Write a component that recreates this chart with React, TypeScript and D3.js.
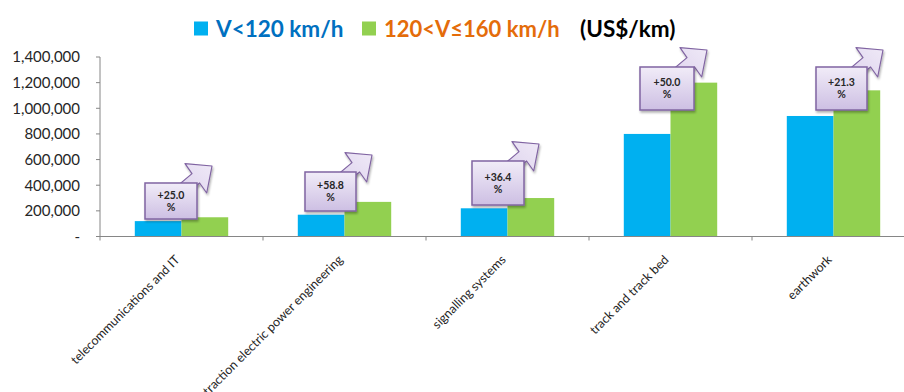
import React from "react";
import * as d3 from "d3";

// Cost per km by railway component, two design-speed classes
const categories = [
  "telecommunications and IT",
  "traction electric power engineering",
  "signalling systems",
  "track and track bed",
  "earthwork",
];
const seriesNames = ["V<120 km/h", "120<V≤160 km/h"];
const lowSpeed = [120000, 170000, 220000, 800000, 940000];
const midSpeed = [150000, 270000, 300000, 1200000, 1140000];
const yTicks = [0, 200000, 400000, 600000, 800000, 1000000, 1200000, 1400000];
const unitLabel = "(US$/km)";

// Callout boxes: offset from the category centre, top edge and size (px)
const calloutLayout = [
  { dx: -36.5, top: 183, w: 52, h: 36 },
  { dx: -39.5, top: 172, w: 51, h: 39 },
  { dx: -35.5, top: 161, w: 52, h: 44 },
  { dx: -30.5, top: 67, w: 54, h: 43 },
  { dx: -17.5, top: 67, w: 51, h: 43 },
];

const W = 904;
const H = 392;
const left = 100;
const catStep = 163;
const top = 57;
const bottom = 236.5;

const FONT = "Lato, 'Open Sans', sans-serif";
const BLUE = "#00b0f0";
const GREEN = "#92d050";
const AXIS = "#868686";

export default function App() {
  const x0 = d3
    .scaleBand<string>()
    .domain(categories)
    .range([left, left + catStep * categories.length])
    .padding(0);
  const x1 = d3
    .scaleBand<string>()
    .domain(seriesNames)
    .range([0, x0.bandwidth()])
    .paddingInner(0)
    .paddingOuter(0.745);
  const y = d3.scaleLinear().domain([0, 1400000]).range([bottom, top]);
  const fmt = d3.format(",");
  const series = [lowSpeed, midSpeed];
  const colors = [BLUE, GREEN];

  // Block arrow shape relative to callout box top-left
  const arrowPath =
    "M24,10 L47,-9.4 L40,-19.4 L67,-17 L61.7,10 L54.6,0 L31,19 Z";

  return (
    <svg
      width={W}
      height={H}
      style={{ position: "absolute", left: 0, top: 0, background: "#fff" }}
      fontFamily={FONT}
    >
      <defs>
        <linearGradient id="boxFill" x1="0" y1="0" x2="0" y2="1">
          <stop offset="0%" stopColor="#f1ecf8" />
          <stop offset="100%" stopColor="#cdbfe3" />
        </linearGradient>
        <linearGradient id="arrowFill" x1="0" y1="1" x2="1" y2="0">
          <stop offset="0%" stopColor="#d9cdea" />
          <stop offset="100%" stopColor="#efe9f7" />
        </linearGradient>
        <filter id="shadow" x="-20%" y="-20%" width="150%" height="150%">
          <feDropShadow dx="1" dy="2" stdDeviation="1.2" floodColor="#000" floodOpacity="0.3" />
        </filter>
      </defs>

      {/* legend */}
      <g>
        <rect x={194} y={21.5} width={14} height={14} fill={BLUE} />
        <text x={216} y={36.5} fontSize={22.5} fontWeight={700} fill="#0070c0">
          {seriesNames[0]}
        </text>
        <rect x={362} y={21.5} width={14} height={14} fill={GREEN} />
        <text x={384} y={36.5} fontSize={22} fontWeight={700} fill="#e46c0a">
          {seriesNames[1]}
        </text>
        <text x={580} y={36.5} fontSize={22.5} fontWeight={700} fill="#000">
          {unitLabel}
        </text>
      </g>

      {/* y axis */}
      <line x1={left} x2={left} y1={top} y2={bottom} stroke={AXIS} strokeWidth={1} />
      {yTicks.map((t) => (
        <g key={t}>
          <line x1={left - 4} x2={left} y1={y(t)} y2={y(t)} stroke={AXIS} />
          <text
            x={80}
            y={y(t)}
            dy="0.36em"
            textAnchor="end"
            fontSize={15}
            fill="#262626"
          >
            {t === 0 ? "-" : fmt(t)}
          </text>
        </g>
      ))}

      {/* bars */}
      {categories.map((c, i) => (
        <g key={c} transform={`translate(${x0(c)},0)`}>
          {series.map((s, k) => (
            <rect
              key={k}
              x={x1(seriesNames[k])}
              y={y(s[i])}
              width={x1.bandwidth()}
              height={y(0) - y(s[i])}
              fill={colors[k]}
            />
          ))}
        </g>
      ))}

      {/* x axis */}
      <line x1={left} x2={W} y1={bottom} y2={bottom} stroke={AXIS} strokeWidth={1} />
      {categories.map((c) => (
        <line
          key={c}
          x1={x0(c)!}
          x2={x0(c)!}
          y1={bottom}
          y2={bottom + 4}
          stroke={AXIS}
        />
      ))}
      {categories.map((c) => {
        const cx = x0(c)! + x0.bandwidth() / 2 - 1;
        const cy = bottom + 24;
        return (
          <text
            key={c}
            x={cx}
            y={cy}
            textAnchor="end"
            fontSize={12.5}
            fill="#262626"
            transform={`rotate(-45 ${cx} ${cy})`}
          >
            {c}
          </text>
        );
      })}

      {/* growth callouts */}
      {categories.map((c, i) => {
        const l = calloutLayout[i];
        const bx = x0(c)! + x0.bandwidth() / 2 + l.dx;
        const pct = ((midSpeed[i] / lowSpeed[i] - 1) * 100).toFixed(1);
        return (
          <g key={c} transform={`translate(${bx},${l.top})`}>
            <path
              d={arrowPath}
              fill="url(#arrowFill)"
              stroke="#8064a2"
              strokeWidth={1.2}
              strokeLinejoin="round"
              filter="url(#shadow)"
            />
            <rect
              x={0}
              y={0}
              width={l.w}
              height={l.h}
              fill="url(#boxFill)"
              stroke="#8064a2"
              strokeWidth={1.5}
              filter="url(#shadow)"
            />
            <text
              x={l.w / 2}
              y={l.h / 2 - 6}
              textAnchor="middle"
              fontSize={10.5}
              fontWeight={700}
              fill="#262626"
              dy="0.35em"
            >
              {`+${pct}`}
            </text>
            <text
              x={l.w / 2}
              y={l.h / 2 + 6}
              textAnchor="middle"
              fontSize={10.5}
              fontWeight={700}
              fill="#262626"
              dy="0.35em"
            >
              %
            </text>
          </g>
        );
      })}
    </svg>
  );
}
